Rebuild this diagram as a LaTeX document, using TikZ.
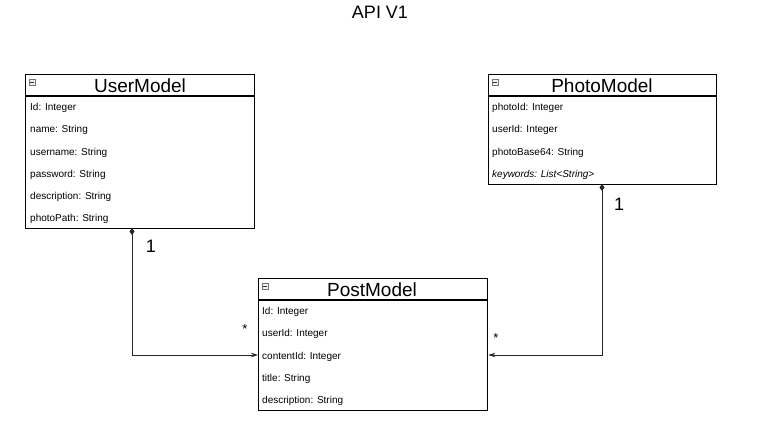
\documentclass[tikz,border=0pt]{standalone}
\usepackage{fontspec}
\setmainfont{Liberation Sans}
\usetikzlibrary{arrows.meta,calc}
\begin{document}
\begin{tikzpicture}[x=1pt,y=-1pt,
  classbox/.style={draw=black,line width=1.4pt,rectangle,inner sep=0pt,anchor=north west},
  headtext/.style={font=\fontsize{19}{22}\selectfont,inner sep=0pt,anchor=center},
  rowtext/.style={font=\fontsize{10}{12}\selectfont,inner sep=0pt,anchor=base west,yshift=-3.5pt},
  lbl/.style={font=\fontsize{18}{20}\selectfont,inner sep=0pt},
  star/.style={font=\fontsize{13}{14}\selectfont,inner sep=0pt},
  conn/.style={draw=black!85,line width=0.8pt,{Diamond[length=7pt,width=5pt]}-{Stealth[length=7pt,width=4.5pt]}},
  icon/.style={draw=black!55,fill=black!5,line width=0.5pt,minimum size=6pt,inner sep=0pt,rectangle}
]
\useasboundingbox (0,0) rectangle (763,436);
\node[font=\fontsize{18}{20}\selectfont,inner sep=0pt] (title) at (380,12) {API V1};

% UserModel
\node[classbox,minimum width=229pt,minimum height=154pt] (user) at (25,74) {};
\draw[line width=1.4pt] (25,96) -- (254,96);
\node[headtext] (userh) at (140,86) {UserModel};
\node[icon] (useri) at (32,82) {};
\draw[line width=0.7pt,black!80] ($(useri.center)+(-2,0)$) -- ($(useri.center)+(2,0)$);
\node[rowtext] (u1) at (30,107) {Id: Integer};
\node[rowtext] (u2) at (30,129) {name: String};
\node[rowtext] (u3) at (30,152) {username: String};
\node[rowtext] (u4) at (30,174) {password: String};
\node[rowtext] (u5) at (30,196) {description: String};
\node[rowtext] (u6) at (30,218) {photoPath: String};

% PhotoModel
\node[classbox,minimum width=228pt,minimum height=110pt] (photo) at (488,74) {};
\draw[line width=1.4pt] (488,96) -- (716,96);
\node[headtext] (photoh) at (602,86) {PhotoModel};
\node[icon] (photoi) at (495,82) {};
\draw[line width=0.7pt,black!80] ($(photoi.center)+(-2,0)$) -- ($(photoi.center)+(2,0)$);
\node[rowtext] (p1) at (492,107) {photoId: Integer};
\node[rowtext] (p2) at (492,129) {userId: Integer};
\node[rowtext] (p3) at (492,152) {photoBase64: String};
\node[rowtext,font=\fontsize{10}{12}\selectfont\itshape] (p4) at (492,174) {keywords: List<String>};

% PostModel
\node[classbox,minimum width=229pt,minimum height=132pt] (post) at (258,278) {};
\draw[line width=1.4pt] (258,300) -- (487,300);
\node[headtext] (posth) at (372,290) {PostModel};
\node[icon] (posti) at (265,286) {};
\draw[line width=0.7pt,black!80] ($(posti.center)+(-2,0)$) -- ($(posti.center)+(2,0)$);
\node[rowtext] (q1) at (262,311) {Id: Integer};
\node[rowtext] (q2) at (262,333) {userId: Integer};
\node[rowtext] (q3) at (262,356) {contentId: Integer};
\node[rowtext] (q4) at (262,378) {title: String};
\node[rowtext] (q5) at (262,400) {description: String};

% connectors
\coordinate (ustart) at (132,228);
\coordinate (pstart) at (602,184);
\coordinate (joinrow) at (0,355);
\draw[conn] (ustart) |- (post.west |- joinrow);
\draw[conn] (pstart) |- (post.east |- joinrow);

\node[lbl] (l1) at (151,246) {1};
\node[star] (s1) at (245,329) {*};
\node[lbl] (l2) at (619,204) {1};
\node[star] (s2) at (496,338) {*};
\end{tikzpicture}
\end{document}
